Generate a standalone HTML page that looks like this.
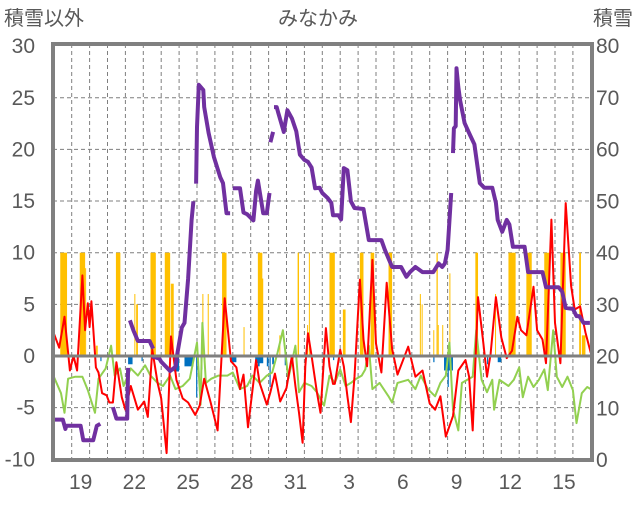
<!DOCTYPE html>
<html><head><meta charset="utf-8"><style>
html,body{margin:0;padding:0;background:#fff;}
svg text{font-family:"Liberation Sans","Noto Sans CJK JP",sans-serif;fill:#595959;}
</style></head><body>
<svg id="chart" width="636" height="501" viewBox="0 0 636 501" xmlns="http://www.w3.org/2000/svg">
<text x="318" y="25" font-size="20" text-anchor="middle">みなかみ</text>
<text x="4" y="25" font-size="20">積雪以外</text>
<text x="633" y="25" font-size="20" text-anchor="end">積雪</text>
<g id="grid"></g>
<g id="bars"></g>
<g id="lines"></g>
<g id="axes"></g>
</svg>
<script>
const leftTicks=[30,25,20,15,10,5,0,-5,-10];
const rightTicks=[80,70,60,50,40,30,20,10,0];
const dayLabels=["19","22","25","28","31","3","6","9","12","15"];
const dayLabelIdx=[1,4,7,10,13,16,19,22,25,28];
const redT=[0,0.3,0.6,0.9,1.1,1.3,1.6,1.75,1.9,2.0,2.1,2.35,2.5,2.7,2.95,3.1,3.3,3.5,3.8,4.0,4.3,4.7,5.05,5.25,5.5,5.8,6.0,6.3,6.55,6.85,7.2,7.5,7.9,8.15,8.4,8.75,9.15,9.55,9.9,10.2,10.4,10.6,10.85,11.3,11.5,11.9,12.1,12.35,12.65,13.0,13.3,13.5,13.7,13.9,14.05,14.2,14.4,14.7,14.9,15.2,15.4,15.6,15.7,16.0,16.2,16.4,16.6,16.8,17.1,17.3,17.5,17.8,18.0,18.3,18.6,18.9,19.2,19.8,20.2,20.6,20.8,21.0,21.3,21.6,21.9,22.3,22.6,23.0,23.2,23.4,23.7,24.0,24.2,24.4,24.7,25.0,25.3,25.6,25.9,26.1,26.4,26.8,27.0,27.3,27.5,27.8,28.0,28.3,28.6,28.9,29.1,29.4,29.7,30.0];
const redV=[2.2,0.8,3.8,-1.4,0,-1.4,7.8,2.5,5.1,2.8,5.3,-1.1,-1.6,-3.6,-3.8,-4.5,-4.5,-0.6,-4.0,-5.2,-2.9,-5.2,-4.4,-5.9,0.6,-2.6,-4.1,-9.4,1.9,-2.3,-4.1,-4.5,-5.7,-4.8,-2.2,-4.4,-7.2,5.6,-0.5,-1.1,-3.2,-1.8,-6.9,-0.4,-2.6,-4.7,-3.5,-1.7,-4.4,-3.1,0,-2.9,-5.5,-8.4,-1.0,2.2,0,-3.5,-5.5,2.7,-1.0,-2.7,-2.7,0.6,-1.0,-3.9,-6.4,-2.0,7.4,1.6,-1.0,9.3,1.2,-1.6,7.1,0.7,-1.8,0.9,-2.0,-1.4,-3.0,-4.6,-5.2,-3.9,-7.8,-5.8,-1.4,-0.4,-2.0,-7.2,5.7,1.2,-2.0,0.2,5.7,1.8,-0.2,0.5,3.8,2.5,2.0,6.7,2.5,1.6,-0.7,13.2,3.2,-0.7,14.8,6.8,4.5,4.8,2.3,0.3];
const grnT=[0,0.4,0.6,0.8,1.2,1.6,1.9,2.3,2.5,2.9,3.2,3.4,3.7,3.9,4.3,4.7,5.1,5.4,5.8,6.1,6.5,6.8,7.2,7.6,8.0,8.2,8.3,8.5,8.8,9.2,9.7,10.0,10.4,10.8,11.1,11.5,11.9,12.2,12.5,12.8,13.1,13.5,13.7,14.0,14.4,14.7,15.1,15.4,15.7,16.0,16.3,16.6,16.9,17.2,17.4,17.6,17.8,18.2,18.7,18.9,19.2,19.8,20.2,20.5,20.9,21.3,21.6,21.9,22.1,22.3,22.6,22.8,23.1,23.4,23.6,23.9,24.2,24.5,24.6,24.9,25.4,25.7,26.0,26.2,26.5,26.8,27.1,27.4,27.6,27.9,28.1,28.4,28.7,29.0,29.2,29.5,29.8,30.0];
const grnV=[-2.0,-3.6,-5.5,-2.2,-2.0,-2.0,-3.3,-5.5,-2.2,-1.2,1.0,-1.9,-1.2,-2.9,-1.2,-1.9,-0.9,-1.9,-2.6,-2.9,-1.9,-3.2,-2.9,-2.2,1.3,-4.7,3.2,-2.6,-2.2,-1.9,-1.9,-1.6,-3.2,-2.9,-1.9,-2.6,-1.9,-1.6,0.3,2.5,-2.2,1.0,-3.5,-2.6,-2.9,-3.5,-4.8,-1.9,-2.6,-1.3,-2.9,-2.6,-2.2,-1.9,-1.3,1.0,-3.2,-2.6,-3.9,-4.5,-2.6,-2.3,-3.2,-1.9,-3.2,-3.9,-2.6,-1.9,1.3,-5.2,-7.2,-2.6,-2.3,-2.0,2.5,-2.3,-3.5,-2.3,-5.2,-2.3,-2.9,-2.3,-1.1,-4.0,-2.0,-3.0,-2.3,-1.3,-3.3,2.5,-2.0,-3.0,-2.0,-3.3,-6.5,-3.6,-3.0,-3.2];
const snowT=[0,0.5,0.65,0.7,1.5,1.65,2.2,2.4,2.6,null,3.3,3.5,4.1,4.15,null,4.25,4.45,4.7,5.35,5.55,null,5.5,5.9,6.0,6.5,6.8,6.9,7.15,7.3,7.5,7.7,7.8,null,7.95,8.0,8.1,8.35,8.4,8.65,8.95,9.3,9.45,9.65,9.85,null,10.0,10.4,10.6,10.8,11.15,11.3,11.4,11.7,11.9,12.05,null,12.1,12.25,null,12.3,12.45,12.55,12.85,13.05,13.3,13.55,13.75,14.0,14.2,14.4,14.6,14.85,15.0,15.3,15.5,15.6,15.9,16.05,16.2,16.4,16.6,16.8,17.3,17.6,18.3,18.5,18.9,19.4,19.7,19.9,20.2,20.6,21.2,21.5,21.7,21.85,22.0,22.2,null,22.3,22.35,22.45,22.5,22.6,22.7,22.95,23.25,23.5,23.8,24.05,24.5,24.7,24.8,25.05,25.3,25.45,25.65,26.3,26.5,27.3,27.5,28.2,28.4,28.6,29.0,29.2,29.35,29.6,29.95];
const snowV=[7.8,7.8,6.0,6.6,6.6,3.8,3.8,6.6,7.0,null,10.2,8.0,8.0,17.8,null,27.0,25.0,23.0,23.0,21.5,null,20.0,19.6,19.0,17.2,18.0,20.5,25.6,26.5,35.0,46.4,50.0,null,53.4,64.3,72.5,71.5,68.2,63.2,58.5,54.6,53.5,47.7,47.7,null,52.5,52.5,47.8,47.5,46.3,52.0,54.0,47.7,47.7,51.6,null,61.4,63.4,null,68.2,68.2,67.0,63.4,67.6,66.0,63.5,59.0,58.0,57.6,56.5,52.5,52.6,51.6,50.6,49.7,47.3,47.3,46.5,56.4,56.0,50.0,48.7,48.5,42.5,42.5,40.6,37.3,37.3,35.4,36.3,37.3,36.3,36.3,38.0,37.3,38.0,40.6,51.6,null,59.3,64.1,64.5,75.7,72.1,69.5,65.1,62.8,61.0,53.5,52.6,52.6,49.7,46.4,44.1,46.4,45.5,41.2,41.2,36.3,36.3,33.4,33.4,32.5,29.4,29.2,27.8,27.8,26.5,26.5];
const precStart=[0.36,1.45,1.75,2.35,2.4,3.47,4.5,4.6,5.4,6.2,6.45,6.55,8.3,8.6,9.4,10.6,11.4,11.6,12.6,13.62,14.15,14.25,15.4,16.15,17.1,17.7,18.7,20.45,20.55,21.2,21.38,21.45,21.7,22.1,23.55,24.0,24.65,25.4,26.4,27.4,28.3,29.35,29.5];
const precEnd=[0.74,1.75,1.8,2.4,2.45,3.72,4.55,4.7,5.7,6.5,6.5,6.7,8.35,8.65,9.65,10.65,11.65,11.7,12.65,13.7,14.2,14.3,15.7,16.3,17.3,17.9,18.9,20.5,20.6,21.25,21.45,21.5,21.75,22.15,23.7,24.05,24.7,25.8,26.7,27.7,28.6,29.45,29.7];
const precV=[10,10,8.5,1,1,10,6,5,10,10,7,7,6,6,10,2.8,10,7.5,2,10,3,10,10,4.5,10,10,10,6,5,2.5,10,3,3,8,10,0.6,6,10,10,10,10,10,2];
const negStart=[2.6,4.15,4.9,6.7,7.3,7.95,8.2,9.85,11.25,11.4,11.9,12.05,12.2,12.9,15.6,21.2,21.8,22.0,24.2,24.8];
const negEnd=[2.65,4.4,4.95,7.0,7.8,8.0,8.3,10.2,11.7,11.5,12.0,12.1,12.3,12.95,15.65,21.25,22.3,22.05,24.25,25.0];
const negV=[-0.5,-0.8,-0.5,-1.5,-1.0,-4.0,-1.3,-0.6,-0.7,-1.0,-1.0,-3.0,-0.8,-0.9,-0.4,-0.6,-1.4,-3.0,-0.8,-0.6];

const NS='http://www.w3.org/2000/svg';
const X0=53.8, DW=17.9, PL=53, PR=592, PT=44, PB=460;
function xs(t){return X0+t*DW;}
function yL(v){return 356-v*10.33;}
function yR(v){return 460-v*5.175;}
function mk(tag,attrs,parent){const e=document.createElementNS(NS,tag);for(const k in attrs)e.setAttribute(k,attrs[k]);parent.appendChild(e);return e;}
const grid=document.getElementById('grid'),bars=document.getElementById('bars'),lines=document.getElementById('lines'),axes=document.getElementById('axes');
leftTicks.forEach(v=>{if(v===0||v===30||v===-10)return;
 const l=mk('line',{x1:PL,x2:PR,y1:yL(v),y2:yL(v),stroke:'#7f7f7f','stroke-width':1,'stroke-dasharray':'4,3'},grid);
 
 });
for(let d=1;d<=30;d++){const x=xs(d);if(x>=PR-2)break;
 const l=mk('line',{x1:x,x2:x,y1:PT,y2:PB,stroke:'#7f7f7f','stroke-width':1,'stroke-dasharray':'4,3'},grid);
 
 }
precV.forEach((v,i)=>{const x1=xs(precStart[i]),x2=xs(precEnd[i]);
 const r=mk('rect',{x:x1,y:yL(v),width:Math.max(1,x2-x1),height:yL(0)-yL(v),fill:'#ffc000'},bars);
 
 });
negV.forEach((v,i)=>{const x1=xs(negStart[i]),x2=xs(negEnd[i]);
 const r=mk('rect',{x:x1,y:yL(0),width:Math.max(1.2,x2-x1),height:yL(v)-yL(0),fill:'#0070c0'},bars);
 
 });
function path(T,V,yf){let d='',pen=false;for(let i=0;i<T.length;i++){if(T[i]===null||V[i]===null){pen=false;continue;}d+=(pen?'L':'M')+xs(T[i]).toFixed(1)+','+yf(V[i]).toFixed(1);pen=true;}return d;}
const g=mk('path',{d:path(grnT,grnV,yL),fill:'none',stroke:'#92d050','stroke-width':2,'stroke-linejoin':'round'},lines);


const r=mk('path',{d:path(redT,redV,yL),fill:'none',stroke:'#ff0000','stroke-width':2,'stroke-linejoin':'round'},lines);


const p=mk('path',{d:path(snowT,snowV,yR),fill:'none',stroke:'#7030a0','stroke-width':4,'stroke-linejoin':'round'},lines);


const z=mk('line',{x1:PL,x2:PR,y1:yL(0),y2:yL(0),stroke:'#7f7f7f','stroke-width':3},axes);


const f=mk('rect',{x:PL,y:PT,width:PR-PL,height:PB-PT,fill:'none',stroke:'#808080','stroke-width':4},axes);


leftTicks.forEach(v=>{const t=mk('text',{x:35,y:yL(v)+7,'font-size':21,'text-anchor':'end'},axes);t.textContent=v;
 
 });
rightTicks.forEach(v=>{const t=mk('text',{x:596,y:yR(v)+7,'font-size':21},axes);t.textContent=v;
 
 });
dayLabels.forEach((s,i)=>{const t=mk('text',{x:xs(dayLabelIdx[i]+0.5),y:489,'font-size':21,'text-anchor':'middle'},axes);t.textContent=s;
 
 });
</script>
</body></html>
